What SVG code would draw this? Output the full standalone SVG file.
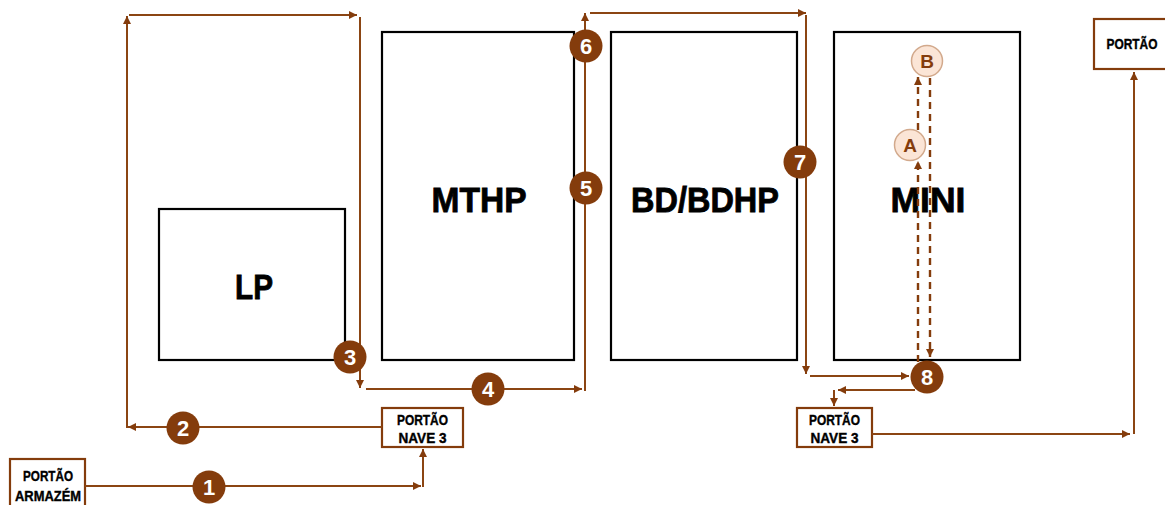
<svg xmlns="http://www.w3.org/2000/svg" width="1165" height="505" viewBox="0 0 1165 505">
  <defs>
    <marker id="arrow" viewBox="0 0 8 8" refX="8" refY="4" markerWidth="8" markerHeight="8" markerUnits="userSpaceOnUse" orient="auto">
      <path d="M0,0 L8,4 L0,8 z" fill="#843C0C"/>
    </marker>
    <style>
      .area { fill: #ffffff; stroke: #000000; stroke-width: 2.2; }
      .area-label { font-family: "Liberation Sans", Arial, sans-serif; font-weight: bold; font-size: 35px; fill: #000000; stroke: #000000; stroke-width: 0.8; text-anchor: middle; }
      .gate { fill: #ffffff; stroke: #843C0C; stroke-width: 2.2; }
      .gate-label { font-family: "Liberation Sans", Arial, sans-serif; font-weight: bold; font-size: 15px; fill: #000000; stroke: #000000; stroke-width: 0.4; text-anchor: middle; }
      .flow { fill: none; stroke: #8B4513; stroke-width: 2; marker-end: url(#arrow); }
      .dash { fill: none; stroke: #843C0C; stroke-width: 2.4; stroke-dasharray: 7 5; marker-end: url(#arrow); }
      .step { fill: #843C0C; }
      .step-num { font-family: "Liberation Sans", Arial, sans-serif; font-weight: bold; font-size: 22px; fill: #ffffff; text-anchor: middle; }
      .point { fill: #FBE5D6; stroke: #D2A98C; stroke-width: 1.5; }
      .point-label { font-family: "Liberation Sans", Arial, sans-serif; font-weight: bold; font-size: 19px; fill: #843C0C; text-anchor: middle; }
    </style>
  </defs>

  <rect width="1165" height="505" fill="#ffffff"/>

  <!-- production areas -->
  <g id="area-lp">
    <rect class="area" x="159" y="209" width="186" height="151"/>
    <text class="area-label" x="254" y="299" textLength="38" lengthAdjust="spacingAndGlyphs">LP</text>
  </g>
  <g id="area-mthp">
    <rect class="area" x="382" y="32" width="192" height="328"/>
    <text class="area-label" x="479" y="212" textLength="95" lengthAdjust="spacingAndGlyphs">MTHP</text>
  </g>
  <g id="area-bdhp">
    <rect class="area" x="611" y="32" width="186" height="328"/>
    <text class="area-label" x="705" y="212" textLength="148" lengthAdjust="spacingAndGlyphs">BD/BDHP</text>
  </g>
  <g id="area-mini">
    <rect class="area" x="834" y="32" width="186" height="328"/>
    <text class="area-label" x="928" y="212" textLength="75" lengthAdjust="spacingAndGlyphs">MINI</text>
  </g>

  <!-- gates -->
  <g id="gate-armazem">
    <rect class="gate" x="10" y="459" width="75" height="60"/>
    <text class="gate-label" x="48" y="481" textLength="50" lengthAdjust="spacingAndGlyphs">PORTÃO</text>
    <text class="gate-label" x="48" y="501" textLength="66" lengthAdjust="spacingAndGlyphs">ARMAZÉM</text>
  </g>
  <g id="gate-nave3-left">
    <rect class="gate" x="382" y="408" width="81" height="39"/>
    <text class="gate-label" x="422.5" y="425" textLength="51" lengthAdjust="spacingAndGlyphs">PORTÃO</text>
    <text class="gate-label" x="422.5" y="443" textLength="48" lengthAdjust="spacingAndGlyphs">NAVE 3</text>
  </g>
  <g id="gate-nave3-right">
    <rect class="gate" x="797" y="408" width="75" height="39"/>
    <text class="gate-label" x="834.5" y="425" textLength="51" lengthAdjust="spacingAndGlyphs">PORTÃO</text>
    <text class="gate-label" x="834.5" y="443" textLength="48" lengthAdjust="spacingAndGlyphs">NAVE 3</text>
  </g>
  <g id="gate-exit">
    <rect class="gate" x="1094" y="19" width="80" height="50"/>
    <text class="gate-label" x="1132" y="49" textLength="51" lengthAdjust="spacingAndGlyphs">PORTÃO</text>
  </g>

  <!-- route connectors -->
  <g id="connectors">
    <path class="flow" d="M85,486 H421"/>
    <path class="flow" d="M423,487 V449"/>
    <path class="flow" d="M382,427 H128"/>
    <path class="flow" d="M127,428 V16"/>
    <path class="flow" d="M129,15 H357"/>
    <path class="flow" d="M360,17 V388"/>
    <path class="flow" d="M366,389 H582"/>
    <path class="flow" d="M585,391 V13"/>
    <path class="flow" d="M590,13 H806"/>
    <path class="flow" d="M806,15 V374"/>
    <path class="flow" d="M810,376 H909"/>
    <path class="flow" d="M915,390 H838"/>
    <path class="flow" d="M834,390 V406"/>
    <path class="flow" d="M872,434 H1130"/>
    <path class="flow" d="M1134,434 V72"/>
    <!-- dashed loop inside MINI -->
    <path class="dash" d="M918,362 V161"/>
    <path class="dash" d="M918,130 V77"/>
    <path class="dash" d="M930,78 V357"/>
  </g>

  <!-- step badges -->
  <g id="step-1"><circle class="step" cx="209" cy="487" r="16.5"/><text class="step-num" x="209" y="495">1</text></g>
  <g id="step-2"><circle class="step" cx="183" cy="428" r="16.5"/><text class="step-num" x="183" y="436">2</text></g>
  <g id="step-3"><circle class="step" cx="350" cy="357" r="16.5"/><text class="step-num" x="350" y="365">3</text></g>
  <g id="step-4"><circle class="step" cx="488" cy="389" r="16.5"/><text class="step-num" x="488" y="397">4</text></g>
  <g id="step-5"><circle class="step" cx="586" cy="188" r="16.5"/><text class="step-num" x="586" y="196">5</text></g>
  <g id="step-6"><circle class="step" cx="586" cy="46" r="16.5"/><text class="step-num" x="586" y="54">6</text></g>
  <g id="step-7"><circle class="step" cx="800" cy="162" r="16.5"/><text class="step-num" x="800" y="170">7</text></g>
  <g id="step-8"><circle class="step" cx="927" cy="377" r="16.5"/><text class="step-num" x="927" y="385">8</text></g>

  <!-- points inside MINI -->
  <g id="point-a"><circle class="point" cx="910" cy="145" r="15.5"/><text class="point-label" x="910" y="152">A</text></g>
  <g id="point-b"><circle class="point" cx="927" cy="61" r="15.5"/><text class="point-label" x="927" y="68">B</text></g>
</svg>
